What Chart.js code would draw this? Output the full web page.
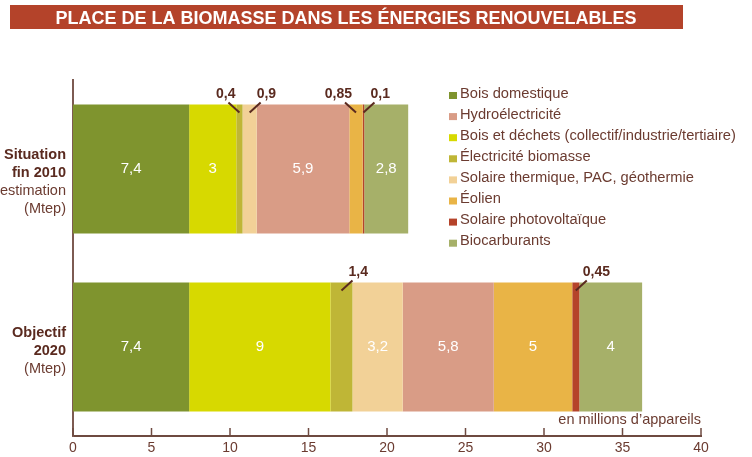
<!DOCTYPE html>
<html lang="fr">
<head>
<meta charset="utf-8">
<title>Place de la biomasse</title>
<script src="https://cdn.jsdelivr.net/npm/chart.js@4/dist/chart.umd.min.js"></script>
<style>
  body { margin: 0; background: #fff; }
  canvas { display: block; }
</style>
</head>
<body>
<canvas id="chart" width="752" height="457"></canvas>
<script>
// Données
const titre = 'PLACE DE LA BIOMASSE DANS LES ÉNERGIES RENOUVELABLES'
const categories = ['Situation fin 2010', 'Objectif 2020']
const categoriesGras = [['Situation', 'fin 2010'], ['Objectif', '2020']]
const categoriesNote = [['estimation', '(Mtep)'], ['(Mtep)']]
const uniteAxe = 'en millions d’appareils'
const axeMin = 0
const axeMax = 40
const axePas = 5

// Séries dans l'ordre d'empilement des barres
const seriesNoms = [
  'Bois domestique',
  'Bois et déchets (collectif/industrie/tertiaire)',
  'Électricité biomasse',
  'Solaire thermique, PAC, géothermie',
  'Hydroélectricité',
  'Éolien',
  'Solaire photovoltaïque',
  'Biocarburants'
]
const boisDomestique = [7.4, 7.4]
const boisDechets = [3, 9]
const electriciteBiomasse = [0.4, 1.4]
const solaireThermique = [0.9, 3.2]
const hydroelectricite = [5.9, 5.8]
const eolien = [0.85, 5]
const solairePV = [0.1, 0.45]
const biocarburants = [2.8, 4]
const seriesValeurs = [boisDomestique, boisDechets, electriciteBiomasse, solaireThermique,
  hydroelectricite, eolien, solairePV, biocarburants]

// Ordre de la légende (différent de l'empilement)
const ordreLegende = [
  'Bois domestique',
  'Hydroélectricité',
  'Bois et déchets (collectif/industrie/tertiaire)',
  'Électricité biomasse',
  'Solaire thermique, PAC, géothermie',
  'Éolien',
  'Solaire photovoltaïque',
  'Biocarburants'
]

// Styles
const couleurs = ['#7f942e', '#d7d900', '#bfb636', '#f2d197', '#d99c86', '#e9b446', '#b5432a', '#a6b069']
const sensRenvoi = [[0, 0], [0, 0], [-1, 1], [1, 0], [0, 0], [-1, 0], [1, 1], [0, 0]] // côté des petites étiquettes
const brunFonce = '#5a2a1f'
const brun = '#6b3b30'
const police = '"Liberation Sans", Arial, sans-serif'

function formate(v) { return String(v).replace('.', ',') }

const decorPlugin = {
  id: 'decor',
  beforeDraw(chart) {
    const ctx = chart.ctx
    ctx.save()
    // bandeau titre
    ctx.fillStyle = '#b4432a'
    ctx.fillRect(10, 5, 673, 24)
    ctx.fillStyle = '#fff'
    ctx.font = 'bold 18px ' + police
    ctx.textAlign = 'center'
    ctx.textBaseline = 'alphabetic'
    ctx.fillText(titre, 346, 23.5)
    ctx.restore()
  },
  afterDraw(chart) {
    const ctx = chart.ctx
    const x = chart.scales.x
    const y = chart.scales.y
    ctx.save()
    // petites graduations vers le haut
    ctx.strokeStyle = '#6e4a40'
    ctx.lineWidth = 1.5
    x.ticks.forEach((t, i) => {
      const px = x.getPixelForTick(i)
      ctx.beginPath()
      ctx.moveTo(px, x.top)
      ctx.lineTo(px, x.top - 8)
      ctx.stroke()
    })
    // unité
    ctx.fillStyle = brun
    ctx.font = '14.5px ' + police
    ctx.textAlign = 'right'
    ctx.textBaseline = 'middle'
    ctx.fillText(uniteAxe, x.right, x.top - 16)
    // libellés des catégories
    categories.forEach((c, i) => {
      const cy = y.getPixelForValue(i)
      let ly = cy - 14.5
      ctx.textAlign = 'right'
      ctx.font = 'bold 14.5px ' + police
      ctx.fillStyle = brunFonce
      categoriesGras[i].forEach(l => { ctx.fillText(l, y.right - 7, ly); ly += 18 })
      ctx.font = '14.5px ' + police
      ctx.fillStyle = brun
      categoriesNote[i].forEach(l => { ctx.fillText(l, y.right - 7, ly); ly += 18 })
    })
    // valeurs sur les barres
    chart.data.datasets.forEach((ds, d) => {
      const meta = chart.getDatasetMeta(d)
      meta.data.forEach((bar, j) => {
        const p = bar.getProps(['x', 'y', 'base', 'height'], true)
        const cx = (p.x + p.base) / 2
        const haut = p.y - p.height / 2
        const v = ds.data[j]
        if (v >= 2) {
          ctx.fillStyle = '#fff'
          ctx.font = '15px ' + police
          ctx.textAlign = 'center'
          ctx.textBaseline = 'middle'
          ctx.fillText(formate(v), cx, p.y)
        } else {
          const s = sensRenvoi[d][j] || 1
          const x0 = cx + s * 11
          ctx.strokeStyle = brunFonce
          ctx.lineWidth = 2
          ctx.beginPath()
          ctx.moveTo(x0, haut - 2)
          ctx.lineTo(cx, haut + 8)
          ctx.stroke()
          ctx.fillStyle = brunFonce
          ctx.font = 'bold 14px ' + police
          ctx.textBaseline = 'alphabetic'
          if (s < 0) {
            ctx.textAlign = 'right'
            ctx.fillText(formate(v), x0 + 7, haut - 6)
          } else {
            ctx.textAlign = 'left'
            ctx.fillText(formate(v), x0 - 4, haut - 6)
          }
        }
      })
    })
    // légende
    ctx.font = '14.7px ' + police
    ctx.textAlign = 'left'
    ctx.textBaseline = 'middle'
    ordreLegende.forEach((nom, k) => {
      const ry = 93.5 + k * 21.1
      ctx.fillStyle = couleurs[seriesNoms.indexOf(nom)]
      ctx.fillRect(449, ry - 1.5, 8, 7)
      ctx.fillStyle = brun
      ctx.fillText(nom, 460, ry)
    })
    ctx.restore()
  }
}

const datasets = seriesNoms.map((nom, i) => ({
  label: nom,
  data: seriesValeurs[i],
  backgroundColor: couleurs[i],
  borderWidth: 0,
  categoryPercentage: 1,
  barPercentage: 0.725
}))

const context = document.getElementById('chart').getContext('2d')
const MyChart = new Chart(context, {
  type: 'bar',
  data: { labels: categories, datasets: datasets },
  options: {
    indexAxis: 'y',
    responsive: false,
    animation: false,
    layout: { padding: { top: 80, right: 51, bottom: 0, left: 0 } },
    plugins: {
      legend: { display: false },
      title: { display: false },
      tooltip: { enabled: false }
    },
    scales: {
      x: {
        stacked: true,
        min: axeMin,
        max: axeMax,
        ticks: { stepSize: axePas, color: brun, font: { family: police, size: 14 }, padding: 4 },
        grid: { display: false, drawTicks: false },
        border: { display: true, color: '#6e4a40', width: 2 },
        afterFit: s => { s.height = 21 }
      },
      y: {
        stacked: true,
        ticks: { display: false },
        grid: { display: false, drawTicks: false },
        border: { display: true, color: '#7d5b52', width: 2 },
        afterFit: s => { s.width = 73 }
      }
    }
  },
  plugins: [decorPlugin]
})
</script>
</body>
</html>
